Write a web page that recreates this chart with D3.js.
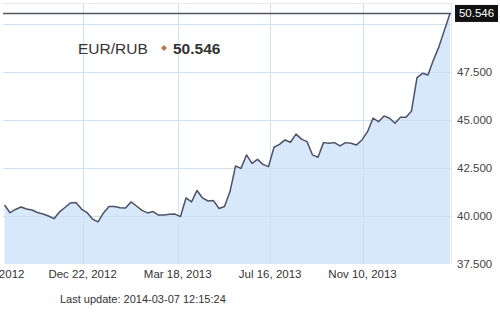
<!DOCTYPE html>
<html><head><meta charset="utf-8">
<script src="https://cdn.jsdelivr.net/npm/d3@7"></script>
<style>body{margin:0;background:#fff;} svg{display:block;font-family:"Liberation Sans",Arial,sans-serif;}</style>
</head><body><svg id="c" width="500" height="312"></svg>
<script>
const values = [40.57,40.17,40.34,40.47,40.36,40.31,40.18,40.10,40.00,39.86,
40.21,40.44,40.68,40.70,40.36,40.18,39.84,39.69,40.16,40.49,
40.49,40.43,40.42,40.73,40.52,40.29,40.16,40.23,40.05,40.05,
40.09,40.10,39.97,40.94,40.73,41.33,40.94,40.78,40.80,40.39,
40.49,41.27,42.60,42.48,43.18,42.74,42.95,42.69,42.57,43.58,
43.73,43.96,43.84,44.26,44.00,43.87,43.18,43.06,43.82,43.79,
43.82,43.65,43.82,43.79,43.70,43.96,44.39,45.09,44.91,45.21,
45.09,44.83,45.14,45.14,45.47,47.20,47.43,47.34,48.13,48.82,
49.69,50.546];
const tickIndex = [-2.6,14.2,31.5,48.3,65.1];
const tickLabels = ["Sep 27, 2012","Dec 22, 2012","Mar 18, 2013","Jul 16, 2013","Nov 10, 2013"];
const yTicks = [37.5,40,42.5,45,47.5];
const yGrid = [40,42.5,45,47.5,50];
const pairName = "EUR/RUB";
const lastValue = 50.546;
const lastUpdate = "Last update: 2014-03-07 12:15:24";

const svg = d3.select("#c");
const L = 3, R = 451, T = 3, B = 264;
const x = d3.scaleLinear().domain([0, values.length-1]).range([4.5, 450]);
const y = d3.scaleLinear().domain([37.5, 51.09]).range([B, T]);
const fmt = d3.format(".3f");

svg.append("defs").append("clipPath").attr("id","pc")
  .append("rect").attr("x",L).attr("y",T).attr("width",R-L).attr("height",B-T+1);

// grid
const g = svg.append("g");
g.selectAll(".hg").data(yGrid).join("line")
  .attr("x1",L).attr("x2",R).attr("y1",d=>Math.round(y(d))+0.5).attr("y2",d=>Math.round(y(d))+0.5)
  .attr("stroke","#e4e9f1").attr("stroke-width",1);
g.append("line").attr("x1",L).attr("x2",R).attr("y1",T+0.5).attr("y2",T+0.5).attr("stroke","#e4e9f1");
g.selectAll(".vg").data(tickIndex.filter(d=>x(d)>L)).join("line")
  .attr("x1",d=>Math.round(x(d))+0.5).attr("x2",d=>Math.round(x(d))+0.5).attr("y1",T).attr("y2",B)
  .attr("stroke","#e4e9f1");
g.append("line").attr("x1",R+0.5).attr("x2",R+0.5).attr("y1",T).attr("y2",B).attr("stroke","#e4e9f1");

// area + line
const pg = svg.append("g").attr("clip-path","url(#pc)");
pg.append("path").datum(values)
  .attr("d", d3.area().x((d,i)=>x(i)).y0(B).y1(d=>y(d)))
  .attr("fill","#d8e8fb");
pg.selectAll(".vg2").data(tickIndex.filter(d=>x(d)>L)).join("line")
  .attr("x1",d=>Math.round(x(d))+0.5).attr("x2",d=>Math.round(x(d))+0.5).attr("y1",T).attr("y2",B)
  .attr("stroke","#cfe0f3").attr("stroke-width",1);
pg.selectAll(".hg2").data(yGrid).join("line")
  .attr("x1",L).attr("x2",R).attr("y1",d=>Math.round(y(d))+0.5).attr("y2",d=>Math.round(y(d))+0.5)
  .attr("stroke","#cfe0f3").attr("stroke-width",1);
pg.append("path").datum(values)
  .attr("d", d3.line().x((d,i)=>x(i)).y(d=>y(d)))
  .attr("fill","none").attr("stroke","#4e5068").attr("stroke-width",1.5).attr("stroke-linejoin","round");

// current value line
svg.append("line").attr("x1",L).attr("x2",R).attr("y1",y(lastValue)).attr("y2",y(lastValue))
  .attr("stroke","#55575f").attr("stroke-width",1.6);

// right axis labels
svg.selectAll(".yl").data(yTicks).join("text")
  .attr("x",457).attr("y",d=>y(d)).attr("dy","0.35em")
  .attr("font-size",11.5).attr("fill","#444").text(d=>fmt(d));

// current value box
svg.append("rect").attr("x",455).attr("y",y(lastValue)-8.5).attr("width",43).attr("height",17).attr("fill","#111");
svg.append("text").attr("x",476.5).attr("y",y(lastValue)).attr("dy","0.35em").attr("text-anchor","middle")
  .attr("font-size",11.5).attr("fill","#fff").text(fmt(lastValue));

// x labels
svg.selectAll(".xl").data(tickIndex).join("text")
  .attr("x",(d)=>x(d)).attr("y",278).attr("text-anchor","middle")
  .attr("font-size",11.5).attr("fill","#333").text((d,i)=>tickLabels[i]);

// legend
svg.append("text").attr("x",78).attr("y",54).attr("font-size",15.5).attr("fill","#333").text(pairName);
svg.append("path").attr("d",d3.symbol().type(d3.symbolSquare).size(18)())
  .attr("transform","translate(164,48) rotate(45)").attr("fill","#b97a4e");
svg.append("text").attr("x",173).attr("y",54).attr("font-size",15.5).attr("font-weight","bold")
  .attr("fill","#333").text(fmt(lastValue));

svg.append("text").attr("x",60).attr("y",303).attr("font-size",11).attr("fill","#333").text(lastUpdate);
</script>
</body></html>
